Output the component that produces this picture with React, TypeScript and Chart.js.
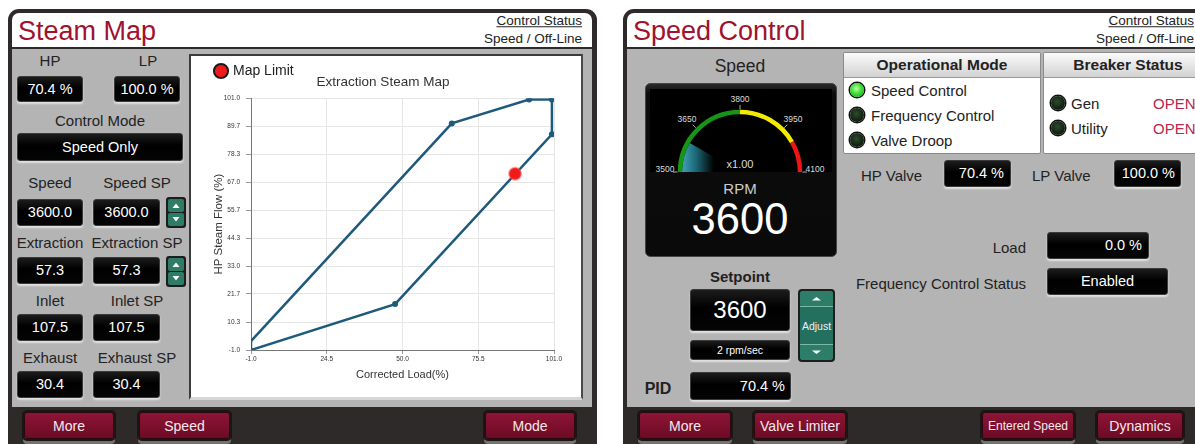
import React, { useEffect, useRef } from 'react';
import Chart from 'chart.js/auto';

const FONT = '"Liberation Sans", Arial, Helvetica, sans-serif';

// ---- chart data ----
const correctedLoad = [-1, 66.6, 92.6, 100.3, 100.3, 47.5, -1, -1];
const hpSteamFlow = [2.6, 90.8, 100.5, 100.5, 86.4, 17.6, -1, 2.6];
const mapLimitLoad = [87.9];
const mapLimitFlow = [70.4];
const loadTicks = [-1, 24.5, 50, 75.5, 101];
const flowTicks = [-1, 10.3, 21.7, 33, 44.3, 55.7, 67, 78.3, 89.7, 101];

// ---- gauge values ----
const gaugeTicks = [3500, 3650, 3800, 3950, 4100];
const gaugeBands = [
  { from: 3500, to: 3800, color: '#189418' },
  { from: 3800, to: 4000, color: '#f2ea00' },
  { from: 4000, to: 4100, color: '#ee1515' },
];
const gaugeSpeed = 3600;

function SteamMapChart() {
  const ref = useRef<HTMLCanvasElement>(null);
  useEffect(() => {
    const canvas = ref.current!;
    const lineColor = '#1d5a7c';
    const baseGen = (Chart as any).defaults.plugins.legend.labels.generateLabels;
    const chart = new Chart(canvas, {
      type: 'scatter',
      data: {
        datasets: [
          {
            label: 'Map Limit',
            data: mapLimitLoad.map((x, i) => ({ x, y: mapLimitFlow[i] })),
            pointRadius: 6,
            pointHoverRadius: 6,
            backgroundColor: '#f01a1a',
            borderColor: 'rgba(255,70,70,0.5)',
            borderWidth: 2,
            showLine: false,
          },
          {
            label: 'Steam Map',
            data: correctedLoad.map((x, i) => ({ x, y: hpSteamFlow[i] })),
            showLine: true,
            borderColor: lineColor,
            backgroundColor: lineColor,
            borderWidth: 2.5,
            pointRadius: (c: any) => (c.raw && c.raw.x <= -1 ? 0 : 3),
            pointHoverRadius: 3,
            pointBorderWidth: 0,
            tension: 0,
            fill: false,
          } as any,
        ],
      },
      options: {
        responsive: false,
        animation: false,
        devicePixelRatio: 1,
        layout: { padding: { top: 4, left: 21, right: 27, bottom: 15 } },
        plugins: {
          legend: {
            display: true,
            position: 'top',
            align: 'start',
            weight: 3000,
            labels: {
              usePointStyle: true,
              boxWidth: 10,
              boxHeight: 10,
              padding: 4,
              color: '#222',
              font: { family: FONT, size: 14 },
              filter: (item: any) => item.datasetIndex === 0,
              generateLabels: (ch: any) =>
                baseGen(ch).map((it: any) => ({
                  ...it,
                  fillStyle: '#f01a1a',
                  strokeStyle: '#1a1a1a',
                  lineWidth: 2,
                  pointStyle: 'circle',
                })),
            },
          } as any,
          title: {
            display: true,
            text: 'Extraction Steam Map',
            color: '#333',
            font: { family: FONT, size: 13.5, weight: 'normal' },
            padding: { top: -14, bottom: 8 },
          },
          tooltip: { enabled: false },
        },
        scales: {
          x: {
            type: 'linear',
            min: -1,
            max: 101,
            afterBuildTicks: (s: any) => {
              s.ticks = loadTicks.map((v) => ({ value: v }));
            },
            afterFit: (s: any) => {
              s.height = 32;
            },
            ticks: {
              callback: (v: any) => Number(v).toFixed(1),
              color: '#333',
              font: { family: FONT, size: 6.5 },
              padding: 1,
              maxRotation: 0,
              autoSkip: false,
            },
            grid: { color: '#e6e6e6', tickLength: 4, tickColor: '#999' },
            border: { color: '#777' },
            title: {
              display: true,
              text: 'Corrected Load(%)',
              color: '#333',
              font: { family: FONT, size: 11 },
              padding: { top: 0, bottom: 0 },
            },
          },
          y: {
            type: 'linear',
            min: -1,
            max: 101,
            afterBuildTicks: (s: any) => {
              s.ticks = flowTicks.map((v) => ({ value: v }));
            },
            afterFit: (s: any) => {
              s.width = 39;
            },
            ticks: {
              callback: (v: any) => Number(v).toFixed(1),
              color: '#333',
              font: { family: FONT, size: 6.5 },
              padding: 6,
              autoSkip: false,
            },
            grid: { color: '#e6e6e6', tickLength: 5, tickColor: '#999' },
            border: { color: '#777' },
            title: {
              display: true,
              text: 'HP Steam Flow (%)',
              color: '#333',
              font: { family: FONT, size: 11.5 },
              padding: { top: 0, bottom: 0 },
            },
          },
        },
      } as any,
    });
    return () => chart.destroy();
  }, []);
  return (
    <canvas
      ref={ref}
      width={390}
      height={341}
      style={{ position: 'absolute', left: 191, top: 56, width: 390, height: 341 }}
    />
  );
}

type TxtProps = {
  x: number;
  y: number;
  children: React.ReactNode;
  size?: number;
  color?: string;
  align?: 'left' | 'center' | 'right';
  weight?: number;
  style?: React.CSSProperties;
};
function Txt({ x, y, children, size = 15, color = '#222', align = 'center', weight = 400, style }: TxtProps) {
  const tx = align === 'center' ? '-50%' : align === 'right' ? '-100%' : '0';
  return (
    <div
      style={{
        position: 'absolute',
        left: x,
        top: y,
        transform: `translate(${tx},-50%)`,
        fontSize: size,
        color,
        fontWeight: weight,
        whiteSpace: 'nowrap',
        lineHeight: 1,
        fontFamily: FONT,
        ...style,
      }}
    >
      {children}
    </div>
  );
}

function VBox({
  x, y, w, h, children, align = 'center', size = 14.5, pad = 6,
}: { x: number; y: number; w: number; h: number; children: React.ReactNode; align?: 'center' | 'right'; size?: number; pad?: number }) {
  return (
    <div
      style={{
        position: 'absolute',
        left: x,
        top: y,
        width: w,
        height: h,
        boxSizing: 'border-box',
        background: 'linear-gradient(#1c1c1c, #000 45%, #050505)',
        border: '1px solid #3a3a3a',
        borderRadius: 3,
        boxShadow: '0 2px 2px rgba(245,245,245,0.7)',
        color: '#fff',
        fontSize: size,
        fontFamily: FONT,
        display: 'flex',
        alignItems: 'center',
        justifyContent: align === 'center' ? 'center' : 'flex-end',
        paddingRight: align === 'right' ? pad : 0,
        whiteSpace: 'nowrap',
        lineHeight: 1,
      }}
    >
      {children}
    </div>
  );
}

function Btn({ x, w, label, size = 14 }: { x: number; w: number; label: string; size?: number }) {
  return (
    <div
      style={{
        position: 'absolute',
        left: x,
        top: 412,
        width: w,
        height: 27,
        boxSizing: 'border-box',
        background: 'linear-gradient(#8e1435, #6c0b25)',
        border: '1px solid #2a0810',
        borderRadius: 3,
        boxShadow: '0 0 0 2px #1a1615, 0 4px 0 1px #77716f',
        color: '#f6e8ec',
        fontSize: size,
        fontFamily: FONT,
        display: 'flex',
        alignItems: 'center',
        justifyContent: 'center',
        whiteSpace: 'nowrap',
        lineHeight: 1,
      }}
    >
      {label}
    </div>
  );
}

function SmallSpin({ x, y }: { x: number; y: number }) {
  return (
    <svg style={{ position: 'absolute', left: x, top: y }} width={20} height={31}>
      <rect x={0} y={0} width={20} height={31} rx={3} fill="#1d1d1d" />
      <rect x={2} y={2} width={16} height={13} rx={2} fill="#2e7c66" />
      <rect x={2} y={16} width={16} height={13} rx={2} fill="#2e7c66" />
      <path d="M6.5 11 L10 6.5 L13.5 11 Z" fill="#fff" />
      <path d="M6.5 20 L10 24.5 L13.5 20 Z" fill="#fff" />
    </svg>
  );
}

function Led({ x, y, on }: { x: number; y: number; on?: boolean }) {
  return (
    <div
      style={{
        position: 'absolute',
        left: x - 7,
        top: y - 7,
        width: 14,
        height: 14,
        borderRadius: '50%',
        background: on
          ? 'radial-gradient(circle at 45% 40%, #c8ffb0 0%, #44e63c 40%, #17901a 100%)'
          : 'radial-gradient(circle at 45% 40%, #2f4a2f 0%, #142614 55%, #060c06 100%)',
        boxShadow: '0 0 0 1.5px #111',
      }}
    />
  );
}

function Panel({ x, w, title, statusRight }: { x: number; w: number; title: string; statusRight: number }) {
  return (
    <>
      <div
        style={{
          position: 'absolute', left: x, top: 9, width: w, height: 440,
          background: '#2d2a29', borderTopLeftRadius: 11, borderTopRightRadius: 11,
        }}
      />
      <div
        style={{
          position: 'absolute', left: x + 4, top: 13, width: w - 9, height: 34,
          background: '#fff', borderTopLeftRadius: 7, borderTopRightRadius: 7,
        }}
      />
      <div style={{ position: 'absolute', left: x + 4, top: 49, width: w - 9, height: 358, background: '#b4b4b4' }} />
      <Txt x={x + 10} y={31} size={27} color="#a0122e" align="left">{title}</Txt>
      <Txt x={statusRight} y={21} size={13.5} align="right" style={{ textDecoration: 'underline' }}>Control Status</Txt>
      <Txt x={statusRight} y={39} size={13.5} align="right">Speed / Off-Line</Txt>
    </>
  );
}

function Gauge() {
  const cx = 95, cy = 89;
  const ang = (v: number) => Math.PI * (1 - (v - 3500) / 600);
  const pt = (v: number, r: number) => [cx + r * Math.cos(ang(v)), cy - r * Math.sin(ang(v))];
  const arc = (a: number, b: number, r: number) => {
    const p1 = pt(a, r), p2 = pt(b, r);
    return `M ${p1[0]} ${p1[1]} A ${r} ${r} 0 0 1 ${p2[0]} ${p2[1]}`;
  };
  const w0 = pt(3500, 58), w1 = pt(gaugeSpeed, 58);
  return (
    <svg style={{ position: 'absolute', left: 645, top: 83 }} width={192} height={174}>
      <defs>
        <linearGradient id="tg" x1={cx - 58} y1={0} x2={cx - 26} y2={0} gradientUnits="userSpaceOnUse">
          <stop offset="0" stopColor="#3ea3b6" />
          <stop offset="0.45" stopColor="#1c6575" />
          <stop offset="1" stopColor="#000" />
        </linearGradient>
        <linearGradient id="bg" x1="0" y1="0" x2="0" y2="1">
          <stop offset="0" stopColor="#2a2a2a" />
          <stop offset="0.06" stopColor="#0d0d0d" />
          <stop offset="1" stopColor="#0a0a0a" />
        </linearGradient>
      </defs>
      <rect x={0.5} y={0.5} width={191} height={173} rx={5} fill="url(#bg)" stroke="#444" />
      <rect x={5} y={6} width={182} height={83} fill="#000" />
      <path d={`M ${cx} ${cy} L ${w0[0]} ${w0[1]} A 58 58 0 0 1 ${w1[0]} ${w1[1]} Z`} fill="url(#tg)" />
      {gaugeBands.map((b) => (
        <path key={b.from} d={arc(b.from, b.to, 60)} stroke={b.color} strokeWidth={4.5} fill="none" />
      ))}
      {gaugeTicks.map((t) => {
        const a = pt(t, 62.5), b = pt(t, 67);
        const lr = t === 3800 ? 73 : 75;
        const l = pt(t, lr);
        const dy = t === 3500 || t === 4100 ? -3 : 0;
        return (
          <g key={t}>
            <line x1={a[0]} y1={a[1]} x2={b[0]} y2={b[1]} stroke="#bbb" strokeWidth={0.9} />
            <text x={l[0]} y={l[1] + dy} fill="#ddd" fontSize={8.5} fontFamily={FONT} textAnchor="middle" dominantBaseline="central">{t}</text>
          </g>
        );
      })}
      <text x={cx} y={81} fill="#ddd" fontSize={11} fontFamily={FONT} textAnchor="middle" dominantBaseline="central">x1.00</text>
      <text x={cx} y={105} fill="#ccc" fontSize={15} fontFamily={FONT} textAnchor="middle" dominantBaseline="central">RPM</text>
      <text x={cx} y={136} fill="#fff" fontSize={43.5} fontFamily={FONT} textAnchor="middle" dominantBaseline="central">{gaugeSpeed}</text>
    </svg>
  );
}

function BoxHeader({ x, w, title }: { x: number; w: number; title: string }) {
  return (
    <div
      style={{
        position: 'absolute', left: x, top: 52, width: w, height: 102, boxSizing: 'border-box',
        border: '1px solid #8a8a8a', borderRadius: 2, background: '#fff', overflow: 'hidden',
      }}
    >
      <div
        style={{
          height: 25, boxSizing: 'border-box', borderBottom: '1px solid #999',
          background: 'linear-gradient(#fbfbfb, #d2d2d2)', display: 'flex', alignItems: 'center',
          justifyContent: 'center', fontWeight: 700, fontSize: 15.5, color: '#222', fontFamily: FONT,
        }}
      >
        {title}
      </div>
    </div>
  );
}

export default function App() {
  return (
    <div
      style={{
        position: 'fixed', left: 0, top: 0, width: 1195, height: 444, overflow: 'hidden',
        background: '#fff', fontFamily: FONT,
      }}
    >
      {/* ---------- Left panel: Steam Map ---------- */}
      <Panel x={8} w={589} title="Steam Map" statusRight={582} />
      <Txt x={50} y={60}>HP</Txt>
      <Txt x={148} y={60}>LP</Txt>
      <VBox x={17} y={76} w={66} h={26}>70.4 %</VBox>
      <VBox x={114} y={76} w={66} h={26}>100.0 %</VBox>
      <Txt x={100} y={120}>Control Mode</Txt>
      <VBox x={17} y={133} w={166} h={28}>Speed Only</VBox>
      <Txt x={50} y={182}>Speed</Txt>
      <Txt x={137} y={182}>Speed SP</Txt>
      <VBox x={17} y={199} w={66} h={27}>3600.0</VBox>
      <VBox x={93} y={199} w={67} h={27}>3600.0</VBox>
      <SmallSpin x={166} y={197} />
      <Txt x={50} y={242}>Extraction</Txt>
      <Txt x={137} y={242}>Extraction SP</Txt>
      <VBox x={17} y={257} w={66} h={27}>57.3</VBox>
      <VBox x={93} y={257} w={67} h={27}>57.3</VBox>
      <SmallSpin x={166} y={256} />
      <Txt x={50} y={300}>Inlet</Txt>
      <Txt x={137} y={300}>Inlet SP</Txt>
      <VBox x={17} y={314} w={66} h={27}>107.5</VBox>
      <VBox x={93} y={314} w={67} h={27}>107.5</VBox>
      <Txt x={50} y={357}>Exhaust</Txt>
      <Txt x={137} y={357}>Exhaust SP</Txt>
      <VBox x={17} y={371} w={66} h={27}>30.4</VBox>
      <VBox x={93} y={371} w={67} h={27}>30.4</VBox>

      <div
        style={{
          position: 'absolute', left: 189, top: 54, width: 394, height: 346, boxSizing: 'border-box',
          background: '#fff', borderTop: '2px solid #3c3c3c', borderLeft: '2px solid #3c3c3c',
          borderRight: '2px solid #4a4a4a', borderBottom: '3px solid #d6d6d6',
        }}
      />
      <SteamMapChart />

      <Btn x={24} w={90} label="More" />
      <Btn x={139} w={91} label="Speed" />
      <Btn x={485} w={90} label="Mode" />

      {/* ---------- Right panel: Speed Control ---------- */}
      <Panel x={623} w={590} title="Speed Control" statusRight={1194} />
      <Txt x={740} y={67} size={17.5}>Speed</Txt>
      <Gauge />

      <BoxHeader x={843} w={198} title="Operational Mode" />
      <BoxHeader x={1043} w={170} title="Breaker Status" />
      <Led x={857} y={90} on />
      <Txt x={871} y={90} align="left">Speed Control</Txt>
      <Led x={857} y={115} />
      <Txt x={871} y={115} align="left">Frequency Control</Txt>
      <Led x={857} y={140} />
      <Txt x={871} y={140} align="left">Valve Droop</Txt>
      <Led x={1058} y={103} />
      <Txt x={1071} y={103} align="left">Gen</Txt>
      <Txt x={1153} y={103} align="left" color="#b8284b">OPEN</Txt>
      <Led x={1058} y={128} />
      <Txt x={1071} y={128} align="left">Utility</Txt>
      <Txt x={1153} y={128} align="left" color="#b8284b">OPEN</Txt>

      <Txt x={861} y={175} align="left">HP Valve</Txt>
      <VBox x={944} y={160} w={67} h={27} align="right">70.4 %</VBox>
      <Txt x={1032} y={175} align="left">LP Valve</Txt>
      <VBox x={1114} y={160} w={67} h={27} align="right" pad={5}>100.0 %</VBox>

      <Txt x={1026} y={247} align="right">Load</Txt>
      <VBox x={1047} y={232} w={102} h={27} align="right">0.0 %</VBox>
      <Txt x={1026} y={283} align="right">Frequency Control Status</Txt>
      <VBox x={1047} y={268} w={121} h={27}>Enabled</VBox>

      <Txt x={740} y={276} weight={700}>Setpoint</Txt>
      <VBox x={690} y={289} w={100} h={42} size={24}>3600</VBox>
      <VBox x={690} y={340} w={100} h={20} size={10.5}>2 rpm/sec</VBox>
      <svg style={{ position: 'absolute', left: 798, top: 289 }} width={37} height={73}>
        <rect x={0} y={0} width={37} height={73} rx={4} fill="#1e1e1e" />
        <rect x={2} y={2} width={33} height={69} rx={3} fill="#22705d" />
        <rect x={2} y={2} width={33} height={15} rx={3} fill="#2d7e69" />
        <rect x={2} y={56} width={33} height={15} rx={3} fill="#2d7e69" />
        <line x1={2} y1={17.5} x2={35} y2={17.5} stroke="#7fb8a8" strokeWidth={1} />
        <line x1={2} y1={55.5} x2={35} y2={55.5} stroke="#7fb8a8" strokeWidth={1} />
        <path d="M14 11.5 L18.5 8 L23 11.5 Z" fill="#fff" />
        <path d="M14 61.5 L18.5 65 L23 61.5 Z" fill="#fff" />
        <text x={18.5} y={37} fill="#eef" fontSize={10.5} fontFamily={FONT} textAnchor="middle" dominantBaseline="central">Adjust</text>
      </svg>
      <Txt x={658} y={389} size={16} weight={700}>PID</Txt>
      <VBox x={690} y={372} w={101} h={28} align="right" pad={5}>70.4 %</VBox>

      <Btn x={639} w={92} label="More" />
      <Btn x={754} w={92} label="Valve Limiter" />
      <Btn x={982} w={92} label="Entered Speed" size={12} />
      <Btn x={1097} w={86} label="Dynamics" />
    </div>
  );
}
